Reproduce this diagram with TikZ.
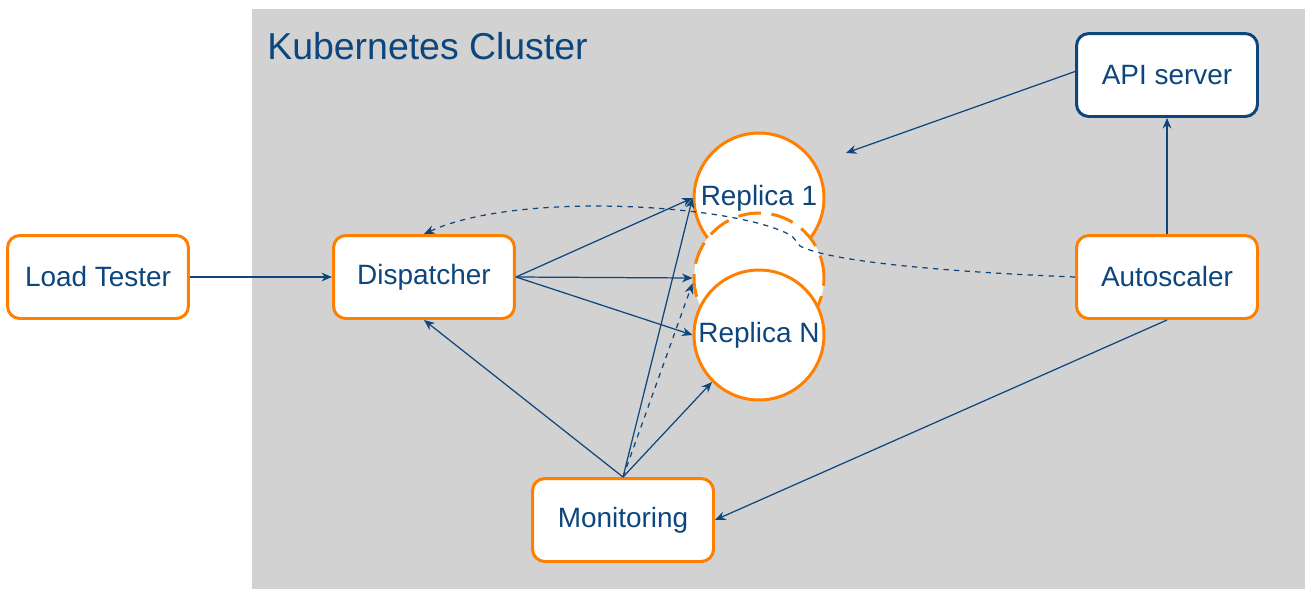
\documentclass[tikz,border=0pt]{standalone}
\usepackage{fontspec}
\setmainfont{Liberation Sans}
\usetikzlibrary{arrows.meta}
\definecolor{kblue}{RGB}{12,70,124}
\definecolor{korange}{RGB}{255,128,0}
\definecolor{kgray}{RGB}{210,210,210}
\tikzset{>={Stealth[length=6pt,width=5pt]},
  box/.style={draw=korange, line width=1.7pt, fill=white, rounded corners=7pt,
    minimum width=3.62cm, minimum height=1.66cm, text=kblue,
    font=\fontsize{15.9}{18}\selectfont},
  replica/.style={circle, draw=korange, line width=1.7pt, fill=white,
    minimum size=2.6cm, inner sep=0pt, text=kblue,
    font=\fontsize{15.9}{18}\selectfont},
  link/.style={->, draw=kblue, line width=0.7pt}}

\begin{document}
\begin{tikzpicture}[x=0.02cm, y=-0.02cm]
    \useasboundingbox (0,0) rectangle (1314,599);
    \fill[kgray] (252,9) rectangle (1305,589);
    \node[anchor=base west, inner sep=0pt, text=kblue, font=\fontsize{21.3}{24}\selectfont]
        (title) at (267,59) {Kubernetes Cluster};
    % boxes
    \node[box] (loadtester) at (98,277) {Load Tester};
    \node[box] (dispatcher) at (424,277) {Dispatcher};
    \node[box] (monitoring) at (623,520) {Monitoring};
    \node[box, draw=kblue] (apiserver) at (1167,75) {API server};
    \node[box] (autoscaler) at (1167,277) {Autoscaler};
    % replicas
    \node[replica] (replicaA) at (759,198) {Replica 1};
    \node[replica, dashed, dash pattern=on 13pt off 6pt] (replicaX) at (759,278) {};
    \node[replica] (replicaN) at (759,335) {Replica N};
    % connectors
    \coordinate (apitarget) at (846,153);
    \draw[link] (loadtester) -- (dispatcher);
    \draw[link] (dispatcher.east) -- (replicaA.west);
    \draw[link] (dispatcher.east) -- (replicaX.west);
    \draw[link] (dispatcher.east) -- (replicaN.west);
    \draw[link] (monitoring.north) -- (dispatcher.south);
    \draw[link] (monitoring.north) -- (replicaA.west);
    \draw[link, dashed] (monitoring.north) -- ([yshift=-3pt]replicaX.west);
    \draw[link] (monitoring.north) -- (replicaN.225);
    \draw[link] (autoscaler.south) -- (monitoring.east);
    \draw[link] (autoscaler) -- (apiserver);
    \draw[link] ([yshift=2pt]apiserver.west) -- (apitarget);
    \draw[link, dashed] (autoscaler.west) .. controls (950,272) and (830,262) .. (800,246)
        -- (792,236) .. controls (740,205) and (520,190) .. (dispatcher.north);
\end{tikzpicture}
\end{document}
